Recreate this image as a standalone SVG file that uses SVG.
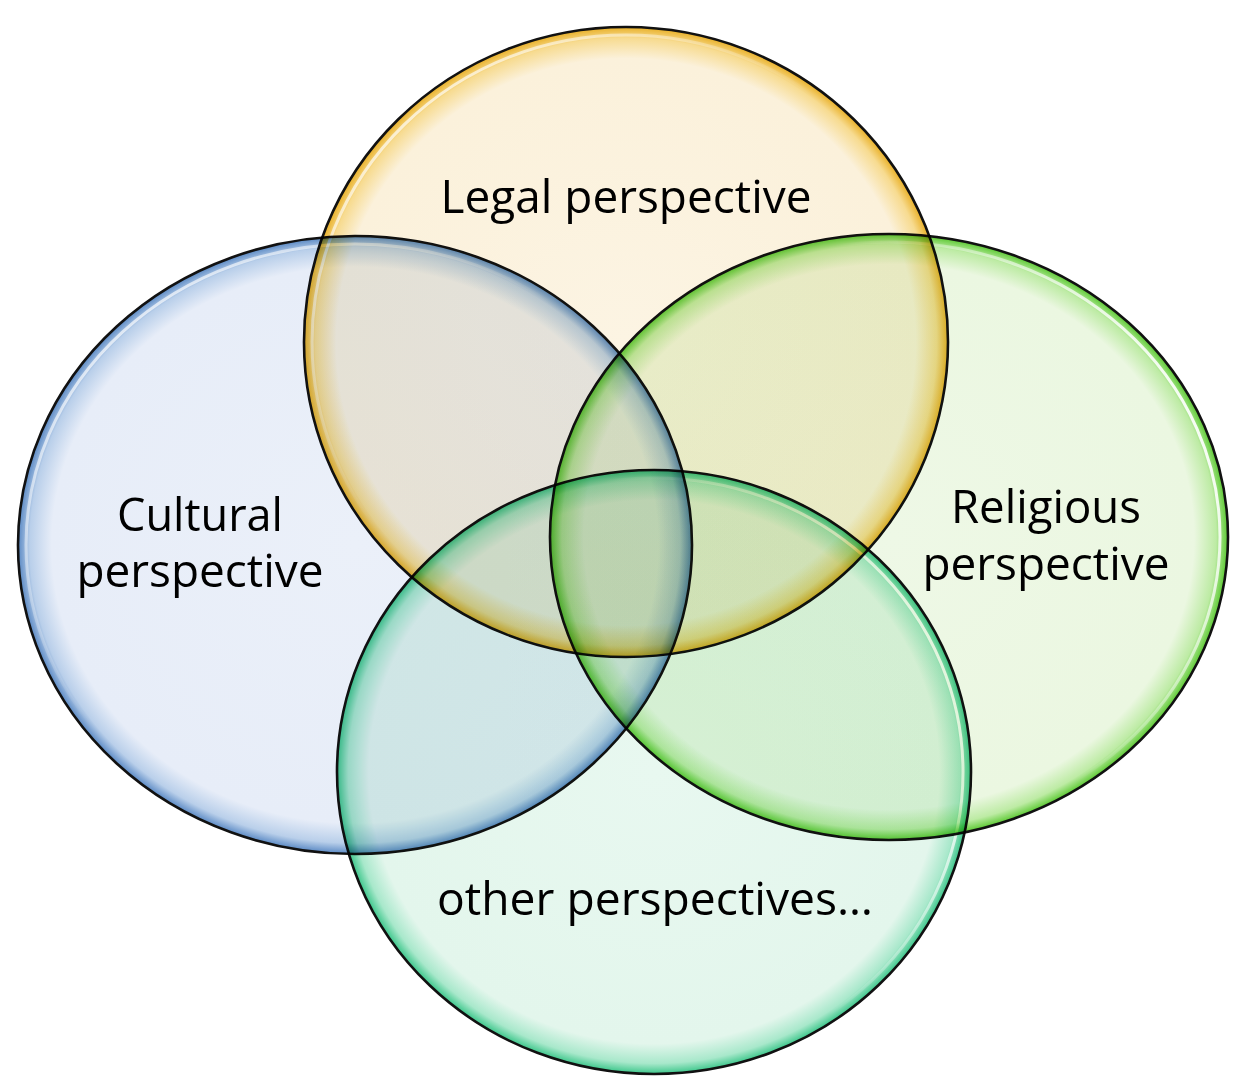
<svg xmlns="http://www.w3.org/2000/svg" width="1243" height="1079" viewBox="0 0 1243 1079">
<style>
.lbl{font-family:"Open Sans","Noto Sans","Liberation Sans",sans-serif;font-size:45px;fill:#000;text-anchor:middle}
.node{mix-blend-mode:multiply}
.rim{fill:none;stroke:#111;stroke-width:2.6}
.hl{fill:none;stroke-width:3}
</style>
<defs>
<radialGradient id="gLegal"><stop offset="0" stop-color="#FCF4E3"/><stop offset="0.9" stop-color="#FBF1DB"/><stop offset="0.965" stop-color="#F7DB90"/><stop offset="1" stop-color="#E9B027"/></radialGradient>
<radialGradient id="gCult"><stop offset="0" stop-color="#EBF0F9"/><stop offset="0.9" stop-color="#E7EDF8"/><stop offset="0.965" stop-color="#B9CFEA"/><stop offset="1" stop-color="#5A89C4"/></radialGradient>
<radialGradient id="gRel"><stop offset="0" stop-color="#EEF8E6"/><stop offset="0.9" stop-color="#EBF7E1"/><stop offset="0.965" stop-color="#BDEBA4"/><stop offset="1" stop-color="#5BC932"/></radialGradient>
<radialGradient id="gOth"><stop offset="0" stop-color="#E8F8F0"/><stop offset="0.9" stop-color="#E3F6EC"/><stop offset="0.965" stop-color="#A8E8CB"/><stop offset="1" stop-color="#3BC68A"/></radialGradient>
<linearGradient id="hlL" x1="0" y1="0" x2="1" y2="1"><stop offset="0" stop-color="#fff" stop-opacity="1"/><stop offset="0.45" stop-color="#fff" stop-opacity="0"/></linearGradient>
<linearGradient id="hlR" x1="1" y1="0.3" x2="0" y2="0.7"><stop offset="0" stop-color="#fff" stop-opacity="1"/><stop offset="0.4" stop-color="#fff" stop-opacity="0"/></linearGradient>
</defs>
<rect width="1243" height="1079" fill="#fff"/>
<g id="legal" class="node">
<ellipse cx="626" cy="342" rx="322" ry="315" fill="url(#gLegal)"/>
<ellipse cx="626" cy="342" rx="314" ry="307" class="hl" stroke="url(#hlL)"/>
<ellipse cx="626" cy="342" rx="322" ry="315" class="rim"/>
</g>
<g id="cultural" class="node">
<ellipse cx="355" cy="545" rx="337" ry="309" fill="url(#gCult)"/>
<ellipse cx="355" cy="545" rx="329" ry="301" class="hl" stroke="url(#hlL)"/>
<ellipse cx="355" cy="545" rx="337" ry="309" class="rim"/>
</g>
<g id="religious" class="node">
<ellipse cx="889" cy="537" rx="339" ry="303" fill="url(#gRel)"/>
<ellipse cx="889" cy="537" rx="331" ry="295" class="hl" stroke="url(#hlR)"/>
<ellipse cx="889" cy="537" rx="339" ry="303" class="rim"/>
</g>
<g id="other" class="node">
<ellipse cx="654" cy="772" rx="317" ry="302" fill="url(#gOth)"/>
<ellipse cx="654" cy="772" rx="309" ry="294" class="hl" stroke="url(#hlR)"/>
<ellipse cx="654" cy="772" rx="317" ry="302" class="rim"/>
</g>
<g id="connectors"/>
<g id="labels">
<text class="lbl" x="626" y="213" textLength="371" lengthAdjust="spacingAndGlyphs">Legal perspective</text>
<text class="lbl" x="200" y="531" textLength="166" lengthAdjust="spacingAndGlyphs">Cultural</text>
<text class="lbl" x="200" y="587" textLength="247" lengthAdjust="spacingAndGlyphs">perspective</text>
<text class="lbl" x="1046" y="523" textLength="190" lengthAdjust="spacingAndGlyphs">Religious</text>
<text class="lbl" x="1046" y="580" textLength="247" lengthAdjust="spacingAndGlyphs">perspective</text>
<text class="lbl" x="655" y="915" textLength="436" lengthAdjust="spacingAndGlyphs">other perspectives…</text>
</g>
</svg>
